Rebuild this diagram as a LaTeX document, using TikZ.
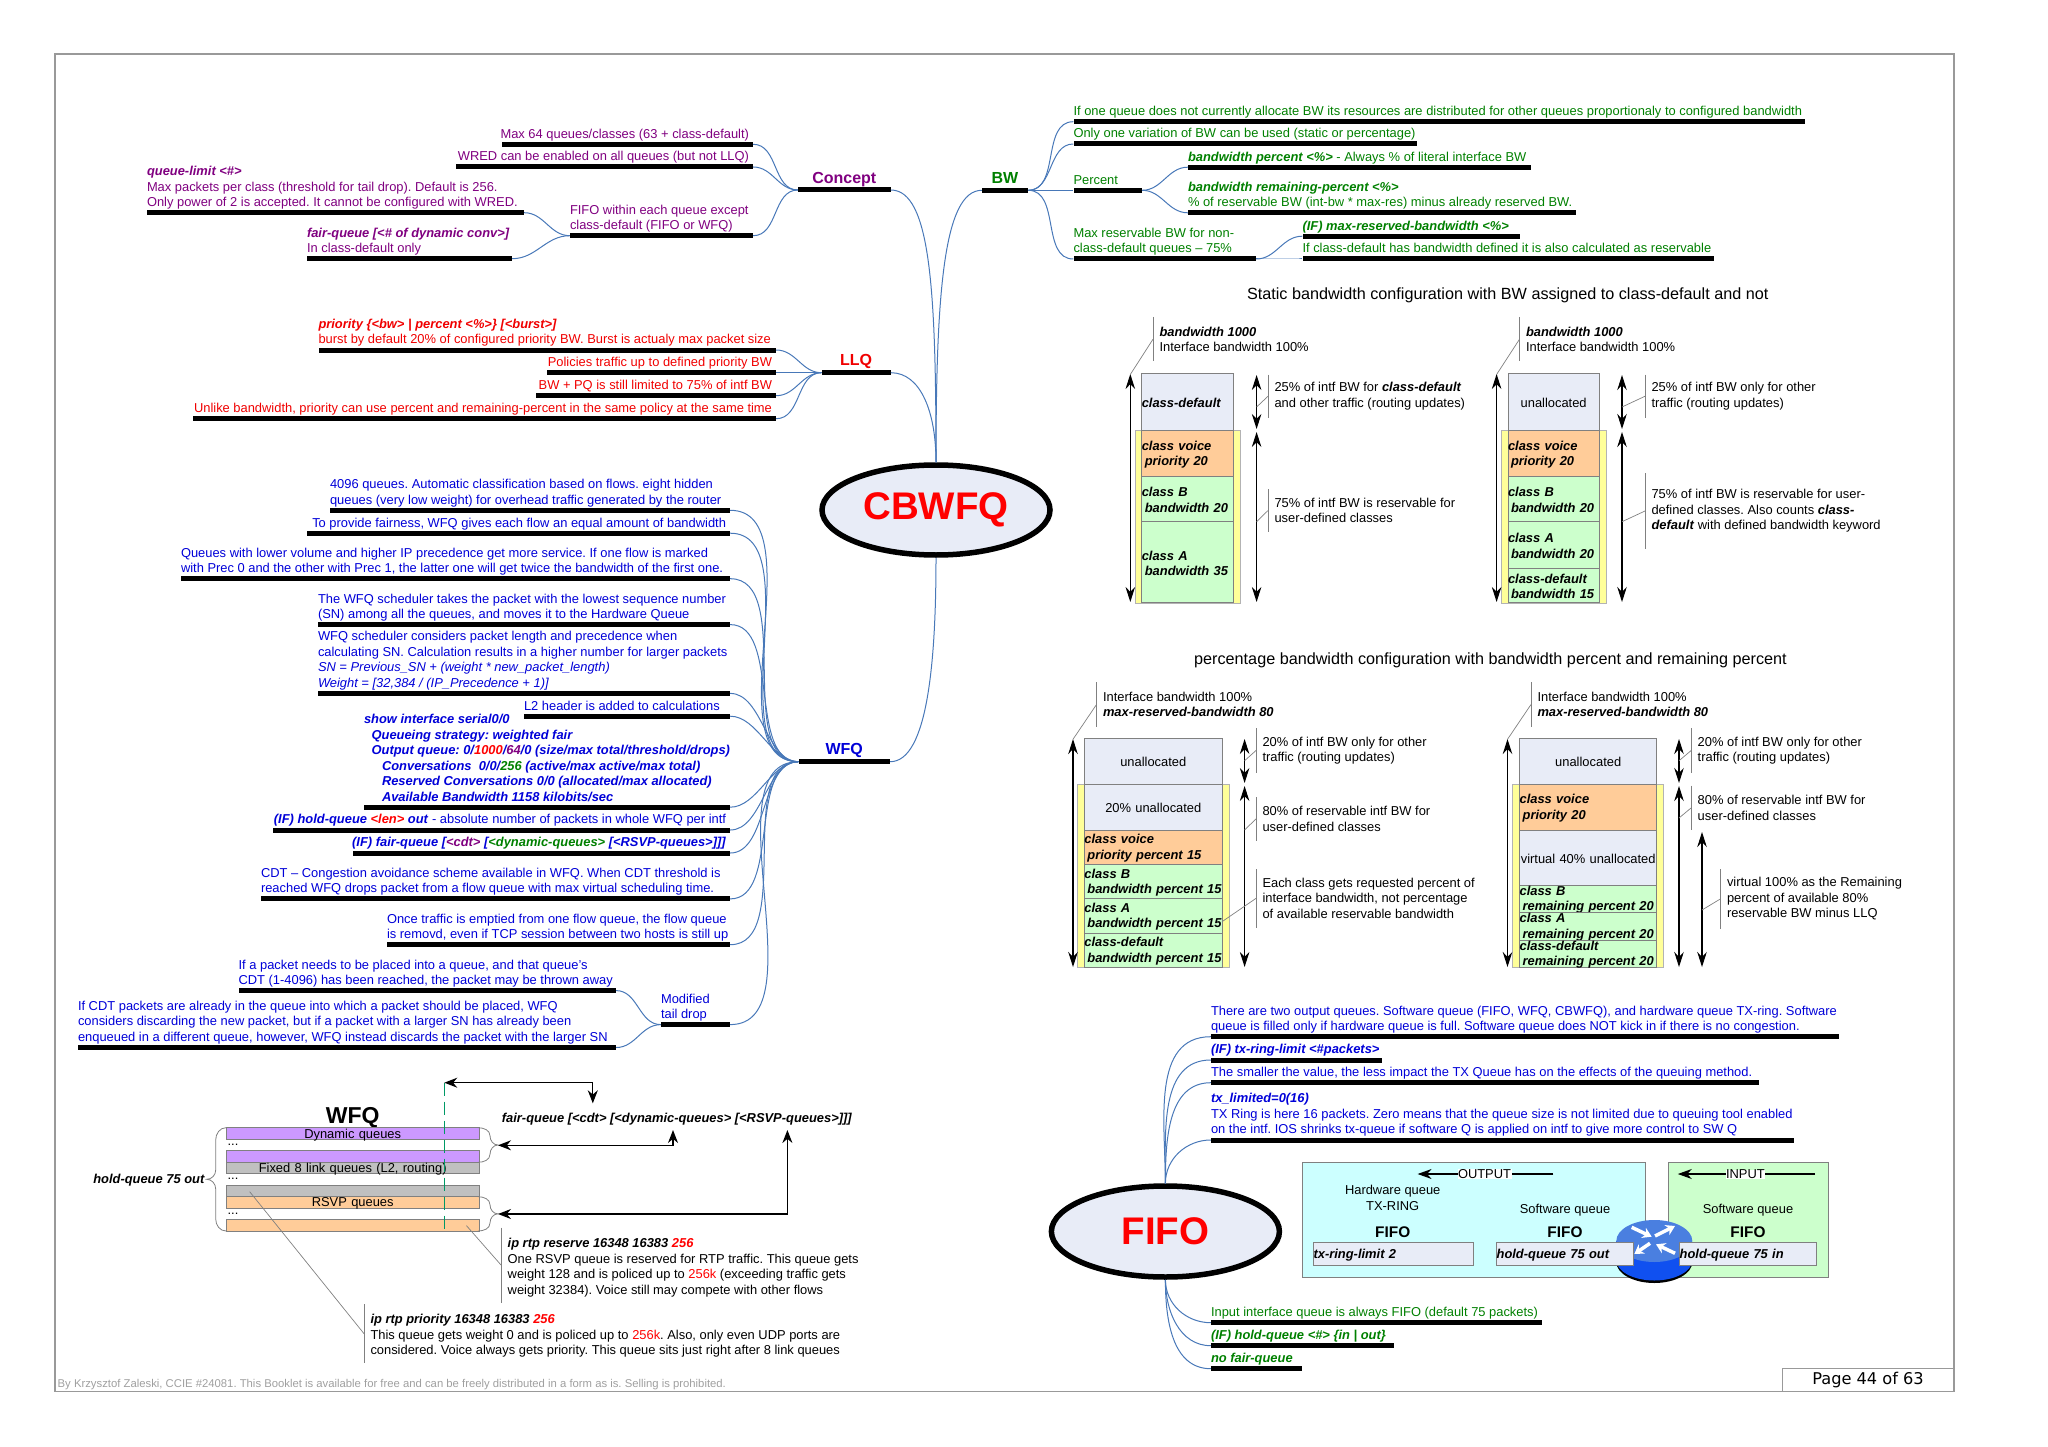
\documentclass[tikz,border=0pt]{standalone}
\usepackage{fontspec}
\usepackage{xcolor}
\setmainfont{Liberation Sans}
\newfontfamily\pagefont{DejaVu Sans}
\usetikzlibrary{arrows.meta,shapes.geometric}
\frenchspacing

\definecolor{plum}{HTML}{800080}
\definecolor{llqred}{HTML}{F00000}
\definecolor{wfqblue}{HTML}{0000D8}
\definecolor{bwgreen}{HTML}{008000}
\definecolor{branchblue}{HTML}{4878B8}
\definecolor{lavender}{HTML}{E8ECF7}
\definecolor{voiceorange}{HTML}{FFCC99}
\definecolor{classgreen}{HTML}{CCFFCC}
\definecolor{bandyellow}{HTML}{FFFF99}
\definecolor{dynpurple}{HTML}{CC99FF}
\definecolor{linkgray}{HTML}{C0C0C0}
\definecolor{outcyan}{HTML}{CCFFFF}
\definecolor{rulegray}{HTML}{808080}
\definecolor{routertop}{HTML}{4A7FE0}
\definecolor{routerbody}{HTML}{1050F0}

\newcommand{\bi}[1]{\textbf{\textit{#1}}}
\def\leafcol{black}
\def\callshift{0pt}

\tikzset{
  bar/.style={fill=black,inner sep=0pt,minimum height=5pt},
  txt/.style={font=\fontsize{12.9}{15.5}\selectfont,inner xsep=0pt,inner ysep=0.2pt,text depth=3pt},
  hubtxt/.style={font=\fontsize{16}{18}\selectfont\bfseries,inner sep=1pt,text depth=3pt},
  branch/.style={draw=branchblue,line width=1pt},
  hubshape/.style={ellipse,draw=black,line width=5.5pt,fill=lavender,inner sep=0pt,
    font=\fontsize{38.5}{40}\selectfont\bfseries,text=red},
  callrule/.style={draw=rulegray,line width=0.7pt},
  calltxt/.style={font=\fontsize{12.9}{15.5}\selectfont,inner xsep=0pt,inner ysep=0pt,align=left},
  cell/.style={draw=rulegray,line width=0.8pt,inner sep=0pt},
  celltxt/.style={font=\fontsize{12.9}{15.5}\selectfont,inner sep=0pt,yshift=-1pt},
  span/.style={draw=black,line width=1.1pt,{Stealth[length=15pt,width=9.5pt]}-{Stealth[length=15pt,width=9.5pt]}},
  thickarrow/.style={draw=black,line width=1.3pt,{Stealth[length=13pt,width=10pt]}-{Stealth[length=13pt,width=10pt]}},
  headline/.style={font=\fontsize{16.2}{18}\selectfont,inner sep=0pt},
  routerarrow/.style={draw=white,line width=3.5pt,-{Stealth[length=9pt,width=11pt]}},
  qbrace/.style={draw=rulegray,line width=0.8pt},
}

% name, x1, x2, y, text
\newcommand{\leafL}[5]{
  \node[bar,minimum width={(#3-#2)*1pt}] (#1) at ({(#2+#3)/2},#4) {};
  \node[txt,anchor=south west,align=left,text=\leafcol] (#1t) at (#1.north west) {#5};
}
\newcommand{\leafR}[5]{
  \node[bar,minimum width={(#3-#2)*1pt}] (#1) at ({(#2+#3)/2},#4) {};
  \node[txt,anchor=south east,align=right,text=\leafcol] (#1t) at ([xshift=-4pt]#1.north east) {#5};
}
\newcommand{\hub}[5]{
  \node[bar,minimum width={(#3-#2)*1pt}] (#1) at ({(#2+#3)/2},#4) {};
  \node[hubtxt,anchor=south,text=\leafcol] (#1t) at (#1.north) {#5};
}
% name, x of rule, top, bottom, tip x, tip y, text
\newcommand{\callout}[7]{
  \coordinate (#1a) at (#2,#3);
  \coordinate (#1b) at (#2,#4);
  \coordinate (#1m) at (#2,{(#3+#4)/2});
  \coordinate (#1p) at (#5,#6);
  \draw[callrule] (#1a) -- (#1b);
  \draw[callrule] (#1m) -- (#1p);
  \node[calltxt,anchor=west] (#1t) at ([xshift=6.3pt,yshift=-\callshift]#1m) {#7};
}
% name, x1, x2, y1, y2, fill, align, text
\newcommand{\qcell}[8]{
  \node[cell,fill=#6,minimum width={(#3-#2)*1pt},minimum height={(#5-#4)*1pt}]
    (#1) at ({(#2+#3)/2},{(#4+#5)/2}) {};
  \node[celltxt,text width={(#3-#2)*1pt},align=#7] (#1t) at (#1.center) {#8};
}
% top, bottom of a small brace right of the queues
\newcommand{\qbraceR}[2]{
  \draw[qbrace] (478,#1) to[out=0,in=90] (490,{#1+8}) to[out=-90,in=180] (498,{(#1+#2)/2})
    to[out=180,in=90] (490,{#2-8}) to[out=-90,in=0] (478,#2);
}

\begin{document}
\begin{tikzpicture}[x=1pt,y=-1pt]
  \useasboundingbox (0,0) rectangle (2048,1447);

  % Page frame and footer
  \draw[draw=gray!80,line width=1.3pt] (55,54) rectangle (1954,1391.5);
  \node[font=\fontsize{11.3}{13}\selectfont,text=gray!75,anchor=west,inner sep=0pt] (footer) at (57.5,1385)
    {By Krzysztof Zaleski, CCIE \#24081. This Booklet is available for free and can be freely distributed in a form as is. Selling is prohibited.};
  \node[draw=gray!80,line width=0.8pt,minimum width=172pt,minimum height=23pt,inner sep=0pt,
    font=\pagefont\fontsize{16.2}{18}\selectfont] (pagebox) at (1868,1380) {Page 44 of 63};

  % Central topics
  \node[hubshape,minimum width=228pt,minimum height=90pt] (cbwfq) at (936,510) {CBWFQ};
  \node[hubshape,minimum width=228pt,minimum height=91pt] (fifo) at (1165.4,1231.5) {FIFO};

  % Concept
  \def\leafcol{plum}
  \hub{concept}{798}{890.6}{190}{Concept}
  \leafR{conmax}{501.5}{753}{144.3}{Max 64 queues/classes (63 + class-default)}
  \leafR{conwred}{455.6}{753}{167}{WRED can be enabled on all queues (but not LLQ)}
  \leafL{confifo}{570}{753}{235.7}{FIFO within each queue except\\class-default (FIFO or WFQ)}
  \leafL{conlimit}{147}{524}{212.7}{\bi{queue-limit <\#>}\\Max packets per class (threshold for tail drop). Default is 256.\\Only power of 2 is accepted. It cannot be configured with WRED.}
  \leafL{confair}{307}{512}{258.7}{\bi{fair-queue [<\# of dynamic conv>]}\\In class-default only}
  \foreach \n in {conmax,conwred,confifo}
    \draw[branch] (\n.east) to[out=0,in=180] (concept.west);
  \foreach \n in {conlimit,confair}
    \draw[branch] (\n.east) to[out=0,in=180] (confifo.west);

  % LLQ
  \def\leafcol{llqred}
  \hub{llq}{821.7}{890.6}{372.7}{LLQ}
  \leafL{llqprio}{318.5}{776}{350}{\bi{priority \{<bw> | percent <\%>\} [<burst>]}\\burst by default 20\% of configured priority BW. Burst is actualy max packet size}
  \leafR{llqpol}{547}{776}{372.7}{Policies traffic up to defined priority BW}
  \leafR{llqpq}{536}{776}{395.7}{BW + PQ is still limited to 75\% of intf BW}
  \leafR{llqbw}{193}{776}{418.7}{Unlike bandwidth, priority can use percent and remaining-percent in the same policy at the same time}
  \foreach \n in {llqprio,llqpol,llqpq,llqbw}
    \draw[branch] (\n.east) to[out=0,in=180] (llq.west);

  % WFQ
  \def\leafcol{wfqblue}
  \hub{wfq}{798.5}{890}{761.7}{WFQ}
  \leafL{wfqa}{330}{730}{510.3}{4096 queues. Automatic classification based on flows. eight hidden\\queues (very low weight) for overhead traffic generated by the router}
  \leafR{wfqb}{307}{730}{533.2}{To provide fairness, WFQ gives each flow an equal amount of bandwidth}
  \leafL{wfqc}{181}{730}{578.7}{Queues with lower volume and higher IP precedence get more service. If one flow is marked\\with Prec 0 and the other with Prec 1, the latter one will get twice the bandwidth of the first one.}
  \leafL{wfqd}{318}{730}{624.6}{The WFQ scheduler takes the packet with the lowest sequence number\\(SN) among all the queues, and moves it to the Hardware Queue}
  \leafL{wfqe}{318}{730}{693.4}{WFQ scheduler considers packet length and precedence when\\calculating SN. Calculation results in a higher number for larger packets\\\textit{SN = Previous\_SN + (weight * new\_packet\_length)}\\\textit{Weight = [32,384 / (IP\_Precedence + 1)]}}
  \leafL{wfqf}{524}{730}{716.2}{L2 header is added to calculations}
  \leafL{wfqg}{364}{730}{807.2}{\bi{show interface serial0/0}\\\hspace*{7.6pt}\bi{Queueing strategy: weighted fair}\\\hspace*{7.6pt}\bi{Output queue: 0/\textcolor{red}{1000}/\textcolor{plum}{64}/0 (size/max total/threshold/drops)}\\\hspace*{18pt}\bi{Conversations\ \ 0/0/\textcolor{bwgreen}{256} (active/max active/max total)}\\\hspace*{18pt}\bi{Reserved Conversations 0/0 (allocated/max allocated)}\\\hspace*{18pt}\bi{Available Bandwidth 1158 kilobits/sec}}
  \leafR{wfqh}{273}{730}{830}{\bi{(IF) hold-queue \textcolor{red}{<len>} out} - absolute number of packets in whole WFQ per intf}
  \leafR{wfqi}{353}{730}{853}{\bi{(IF) fair-queue [\textcolor{plum}{<cdt>} [\textcolor{bwgreen}{<dynamic-queues>} [<RSVP-queues>]]]}}
  \leafL{wfqj}{261}{730}{898.9}{CDT -- Congestion avoidance scheme available in WFQ. When CDT threshold is\\reached WFQ drops packet from a flow queue with max virtual scheduling time.}
  \leafL{wfqk}{387}{730}{944.7}{Once traffic is emptied from one flow queue, the flow queue\\is removd, even if TCP session between two hosts is still up}
  \leafL{wfql}{661}{730}{1024.6}{Modified\\tail drop}
  \leafL{wfqm}{238.6}{616}{990.6}{If a packet needs to be placed into a queue, and that queue's\\CDT (1-4096) has been reached, the packet may be thrown away}
  \leafL{wfqn}{78}{616}{1047.5}{If CDT packets are already in the queue into which a packet should be placed, WFQ\\considers discarding the new packet, but if a packet with a larger SN has already been\\enqueued in a different queue, however, WFQ instead discards the packet with the larger SN}
  \foreach \n in {wfqa,wfqb,wfqc,wfqd,wfqe,wfqf,wfqg,wfqh,wfqi,wfqj,wfqk,wfql}
    \draw[branch] (\n.east) to[out=0,in=180,looseness=0.85] (wfq.west);
  \foreach \n in {wfqm,wfqn}
    \draw[branch] (\n.east) to[out=0,in=180] (wfql.west);

  % BW
  \def\leafcol{bwgreen}
  \hub{bw}{982}{1028}{190.3}{BW}
  \leafL{bwa}{1073.5}{1805}{121.7}{If one queue does not currently allocate BW its resources are distributed for other queues proportionaly to configured bandwidth}
  \leafL{bwb}{1073.5}{1417}{144}{Only one variation of BW can be used (static or percentage)}
  \leafL{bwc}{1073.5}{1142}{190.3}{Percent}
  \leafL{bwd}{1188}{1531}{167.2}{\bi{bandwidth percent <\%>} - Always \% of literal interface BW}
  \leafL{bwe}{1188}{1576}{212.8}{\bi{bandwidth remaining-percent <\%>}\\\% of reservable BW (int-bw * max-res) minus already reserved BW.}
  \leafL{bwf}{1073.5}{1256}{259}{Max reservable BW for non-\\class-default queues -- 75\%}
  \leafL{bwg}{1302.5}{1519.5}{236.2}{\bi{(IF) max-reserved-bandwidth <\%>}}
  \leafL{bwh}{1302.5}{1714}{259}{If class-default has bandwidth defined it is also calculated as reservable}
  \foreach \n in {bwa,bwb,bwc,bwf}
    \draw[branch] (bw.east) to[out=0,in=180] (\n.west);
  \foreach \n in {bwd,bwe}
    \draw[branch] (bwc.east) to[out=0,in=180] (\n.west);
  \foreach \n in {bwg,bwh}
    \draw[branch] (bwf.east) to[out=0,in=180] (\n.west);

  % Links to the central topic
  \draw[branch] (concept.east) .. controls +(40,0) and +(0,-170) .. (cbwfq.north);
  \draw[branch] (llq.east) .. controls +(30,0) and +(0,-50) .. (cbwfq.north);
  \draw[branch] (bw.west) .. controls +(-38,0) and +(0,-170) .. (cbwfq.north);
  \draw[branch] (wfq.east) .. controls +(38,0) and +(0,100) .. (cbwfq.south);

  % Static bandwidth stacks
  \node[headline] (stathead) at (1507.7,295) {Static bandwidth configuration with BW assigned to class-default and not};

  \fill[bandyellow] (1135,430.7) rectangle (1240,602.8);
  \draw[draw=rulegray!60,line width=0.6pt] (1135,430.7) rectangle (1240,602.8);
  \def\xa{1141.8} \def\xb{1233.6}
  \qcell{sadef}{\xa}{\xb}{373.4}{430.7}{lavender}{left}{\bi{class-default}}
  \qcell{savoice}{\xa}{\xb}{430.7}{476.2}{voiceorange}{left}{\bi{class voice}\\\hspace*{3pt}\bi{priority 20}}
  \qcell{sab}{\xa}{\xb}{476.2}{521.7}{classgreen}{left}{\bi{class B}\\\hspace*{3pt}\bi{bandwidth 20}}
  \qcell{saa}{\xa}{\xb}{521.7}{602.8}{classgreen}{left}{\bi{class A}\\\hspace*{3pt}\bi{bandwidth 35}}

  \fill[bandyellow] (1501,430.7) rectangle (1606,602.8);
  \draw[draw=rulegray!60,line width=0.6pt] (1501,430.7) rectangle (1606,602.8);
  \def\xa{1508} \def\xb{1599.3}
  \qcell{sbun}{\xa}{\xb}{373.4}{430.7}{lavender}{center}{unallocated}
  \qcell{sbvoice}{\xa}{\xb}{430.7}{476.2}{voiceorange}{left}{\bi{class voice}\\\hspace*{3pt}\bi{priority 20}}
  \qcell{sbb}{\xa}{\xb}{476.2}{521.7}{classgreen}{left}{\bi{class B}\\\hspace*{3pt}\bi{bandwidth 20}}
  \qcell{sba}{\xa}{\xb}{521.7}{567.9}{classgreen}{left}{\bi{class A}\\\hspace*{3pt}\bi{bandwidth 20}}
  \qcell{sbd}{\xa}{\xb}{567.9}{602.8}{classgreen}{left}{\bi{class-default}\\\hspace*{3pt}\bi{bandwidth 15}}

  % Percentage stacks
  \node[headline] (perchead) at (1490.5,660.5) {percentage bandwidth configuration with bandwidth percent and remaining percent};

  \fill[bandyellow] (1077.5,784.3) rectangle (1229,967.3);
  \draw[draw=rulegray!60,line width=0.6pt] (1077.5,784.3) rectangle (1229,967.3);
  \def\xa{1084.4} \def\xb{1222.2}
  \qcell{pcun}{\xa}{\xb}{738.3}{784.3}{lavender}{center}{unallocated}
  \qcell{pcfree}{\xa}{\xb}{784.3}{830.3}{lavender}{center}{20\% unallocated}
  \qcell{pcvoice}{\xa}{\xb}{830.3}{864.3}{voiceorange}{left}{\bi{class voice}\\\hspace*{3pt}\bi{priority percent 15}}
  \qcell{pcb}{\xa}{\xb}{864.3}{898.7}{classgreen}{left}{\bi{class B}\\\hspace*{3pt}\bi{bandwidth percent 15}}
  \qcell{pca}{\xa}{\xb}{898.7}{933}{classgreen}{left}{\bi{class A}\\\hspace*{3pt}\bi{bandwidth percent 15}}
  \qcell{pcd}{\xa}{\xb}{933}{967.3}{classgreen}{left}{\bi{class-default}\\\hspace*{3pt}\bi{bandwidth percent 15}}

  \fill[bandyellow] (1512.7,784.3) rectangle (1663.7,967.3);
  \draw[draw=rulegray!60,line width=0.6pt] (1512.7,784.3) rectangle (1663.7,967.3);
  \def\xa{1519.6} \def\xb{1656.8}
  \qcell{pdun}{\xa}{\xb}{738.3}{784.3}{lavender}{center}{unallocated}
  \qcell{pdvoice}{\xa}{\xb}{784.3}{830.3}{voiceorange}{left}{\bi{class voice}\\\hspace*{3pt}\bi{priority 20}}
  \qcell{pdfree}{\xa}{\xb}{830.3}{885}{lavender}{center}{virtual 40\% unallocated}
  \qcell{pdb}{\xa}{\xb}{885}{912.7}{classgreen}{left}{\bi{class B}\\\hspace*{3pt}\bi{remaining percent 20}}
  \qcell{pda}{\xa}{\xb}{912.7}{940}{classgreen}{left}{\bi{class A}\\\hspace*{3pt}\bi{remaining percent 20}}
  \qcell{pdd}{\xa}{\xb}{940}{967.3}{classgreen}{left}{\bi{class-default}\\\hspace*{3pt}\bi{remaining percent 20}}

  % Size arrows beside the stacks
  \foreach \n/\x/\a/\b in {sl/1130.3/374/602, sm/1256.6/375/429, sn/1256.6/432/602,
      tl/1496.6/374/602, tm/1622/375/429, tn/1622/432/602,
      ul/1073/739/967, um/1244.6/739/783, un/1244.6/786/967,
      vl/1507.5/739/967, vm/1679/739/783, vn/1679/786/967, vo/1702/832/967} {
    \coordinate (\n-a) at (\x,\a);
    \coordinate (\n-b) at (\x,\b);
    \draw[span] (\n-a) -- (\n-b);
  }

  % Callouts of the stacks
  \callout{cba}{1153}{317}{361.4}{1130.3}{374.5}{\bi{bandwidth 1000}\\Interface bandwidth 100\%}
  \callout{cbb}{1268}{374.5}{418}{1256.6}{407}{25\% of intf BW for \bi{class-default}\\and other traffic (routing updates)}
  \callout{cbc}{1268}{489}{532}{1256.6}{521.7}{75\% of intf BW is reservable for\\user-defined classes}
  \callout{cca}{1519.5}{317}{361.4}{1496.6}{374.5}{\bi{bandwidth 1000}\\Interface bandwidth 100\%}
  \callout{ccb}{1645}{374.5}{418}{1622}{407}{25\% of intf BW only for other\\traffic (routing updates)}
  \callout{ccc}{1645}{473.4}{548.6}{1622}{521.7}{75\% of intf BW is reservable for user-\\defined classes. Also counts \bi{class-}\\\bi{default} with defined bandwidth keyword}
  \callout{cda}{1096.5}{682.3}{726.7}{1073}{739.3}{Interface bandwidth 100\%\\\bi{max-reserved-bandwidth 80}}
  \callout{cdb}{1256}{728.3}{772.7}{1244.6}{760.7}{20\% of intf BW only for other\\traffic (routing updates)}
  \callout{cdc}{1256}{797}{840.7}{1244.6}{830}{80\% of reservable intf BW for\\user-defined classes}
  \callout{cdd}{1256}{869}{927.7}{1222}{921.7}{Each class gets requested percent of\\interface bandwidth, not percentage\\of available reservable bandwidth}
  \callout{cea}{1531}{682.3}{726.7}{1507.5}{739.3}{Interface bandwidth 100\%\\\bi{max-reserved-bandwidth 80}}
  \callout{ceb}{1691.2}{728.3}{772.7}{1679}{760.7}{20\% of intf BW only for other\\traffic (routing updates)}
  \callout{cec}{1691.2}{785.7}{830}{1679}{818}{80\% of reservable intf BW for\\user-defined classes}
  \callout{ced}{1720.5}{869}{928.7}{1702}{910}{virtual 100\% as the Remaining\\percent of available 80\%\\reservable BW minus LLQ}

  % WFQ queue picture
  \node[font=\fontsize{23}{25}\selectfont\bfseries,inner sep=0pt] (wfqhead) at (352.7,1118) {WFQ};
  \def\xa{226.4} \def\xb{479}
  \qcell{qdyn}{\xa}{\xb}{1127.7}{1139.7}{dynpurple}{center}{Dynamic queues}
  \qcell{qdynb}{\xa}{\xb}{1150.7}{1162.3}{dynpurple}{center}{}
  \qcell{qfix}{\xa}{\xb}{1162.3}{1173.7}{linkgray}{center}{Fixed 8 link queues (L2, routing)}
  \qcell{qfixb}{\xa}{\xb}{1185.3}{1196.7}{linkgray}{center}{}
  \qcell{qrsv}{\xa}{\xb}{1196.7}{1208.3}{voiceorange}{center}{RSVP queues}
  \qcell{qrsvb}{\xa}{\xb}{1219.7}{1231}{voiceorange}{center}{}
  \foreach \n/\y in {ddyn/1145, dfix/1179, drsv/1214}
    \node[font=\fontsize{12.9}{14}\selectfont,inner sep=0pt] (\n) at (233,\y) {...};

  \coordinate (dashtop) at (444.3,1082.7);
  \coordinate (dashend) at (444.3,1231);
  \draw[draw=teal!80!green,dashed,dash pattern=on 13pt off 6pt,line width=0.9pt] (dashtop) -- (dashend);

  \draw[qbrace] (226,1127.7) to[out=180,in=90] (215.7,1140) -- (215.7,1170) to[out=-90,in=0] (206.7,1179.3)
    to[out=0,in=90] (215.7,1189) -- (215.7,1219) to[out=-90,in=180] (226,1231);
  \qbraceR{1127.7}{1162.3}
  \qbraceR{1196.7}{1231}
  \node[txt,anchor=east,text depth=0pt] (holdout) at (205,1179.3) {\bi{hold-queue 75 out}};

  \node[txt,anchor=west,text depth=0pt] (fqcmd) at (501.7,1118.3) {\bi{fair-queue [<cdt> [<dynamic-queues> [<RSVP-queues>]]]}};
  \coordinate (cdtdot) at (592.8,1103.3);
  \coordinate (dyndot) at (673,1130);
  \coordinate (rsvdot) at (787.4,1130);
  \coordinate (dynbr) at (498,1145.3);
  \coordinate (rsvbr) at (498,1214);
  \draw[thickarrow] (dashtop) -| (cdtdot);
  \draw[thickarrow] (dynbr) -| (dyndot);
  \draw[thickarrow] (rsvbr) -| (rsvdot);

  \def\callshift{2.5pt}
  \callout{cfa}{501.2}{1227.7}{1302.7}{466.5}{1225.7}{\bi{ip rtp reserve 16348 16383 \textcolor{red}{256}}\\One RSVP queue is reserved for RTP traffic. This queue gets\\weight 128 and is policed up to \textcolor{red}{256k} (exceeding traffic gets\\weight 32384). Voice still may compete with other flows}
  \callout{cfb}{364}{1304}{1363.3}{249.7}{1191.7}{\bi{ip rtp priority 16348 16383 \textcolor{red}{256}}\\This queue gets weight 0 and is policed up to \textcolor{red}{256k}. Also, only even UDP ports are\\considered. Voice always gets priority. This queue sits just right after 8 link queues}

  % FIFO branches
  \def\leafcol{wfqblue}
  \leafL{ffa}{1211}{1839}{1036.7}{There are two output queues. Software queue (FIFO, WFQ, CBWFQ), and hardware queue TX-ring. Software\\queue is filled only if hardware queue is full. Software queue does NOT kick in if there is no congestion.}
  \leafL{ffb}{1211}{1382}{1060}{\bi{(IF) tx-ring-limit <\#packets>}}
  \leafL{ffc}{1211}{1759.4}{1082.7}{The smaller the value, the less impact the TX Queue has on the effects of the queuing method.}
  \leafL{ffd}{1211}{1793.8}{1140}{\bi{tx\_limited=0(16)}\\TX Ring is here 16 packets. Zero means that the queue size is not limited due to queuing tool enabled\\on the intf. IOS shrinks tx-queue if software Q is applied on intf to give more control to SW Q}
  \def\leafcol{bwgreen}
  \leafL{ffe}{1211}{1542}{1322.7}{Input interface queue is always FIFO (default 75 packets)}
  \leafL{fff}{1211}{1394}{1345.7}{\bi{(IF) hold-queue <\#> \{in | out\}}}
  \leafL{ffg}{1211}{1302}{1368.7}{\bi{no fair-queue}}
  \foreach \n in {ffa,ffb,ffc,ffd}
    \draw[branch] (fifo.north) to[out=90,in=180] (\n.west);
  \foreach \n in {ffe,fff,ffg}
    \draw[branch] (fifo.south) to[out=-90,in=180] (\n.west);

  % Output and input panels
  \draw[draw=rulegray,fill=outcyan,line width=0.8pt] (1302,1162.7) rectangle (1645,1277.3);
  \draw[draw=rulegray,fill=classgreen,line width=0.8pt] (1668,1162.7) rectangle (1828,1277.3);

  \coordinate (outr) at (1553.4,1174);
  \coordinate (outl) at (1417.6,1174);
  \coordinate (inr) at (1815,1174);
  \coordinate (inl) at (1677.8,1174);
  \draw[draw=black,line width=1.2pt,-{Stealth[length=14pt,width=10pt]}] (outr) -- (outl);
  \draw[draw=black,line width=1.2pt,-{Stealth[length=14pt,width=10pt]}] (inr) -- (inl);
  \node[calltxt,fill=white,inner xsep=0.5pt] (outtxt) at (1484.5,1174) {OUTPUT};
  \node[calltxt,fill=white,inner xsep=0.5pt] (intxt) at (1745.4,1174) {INPUT};

  \node[calltxt,align=center] (hwq) at (1392.7,1198) {Hardware queue\\TX-RING};
  \node[calltxt] (swq) at (1565,1210.5) {Software queue};
  \node[calltxt] (swr) at (1748,1210.5) {Software queue};
  \foreach \n/\x in {ffifoa/1392.7, ffifob/1565, ffifoc/1748}
    \node[font=\fontsize{15.4}{17}\selectfont\bfseries,inner sep=0pt] (\n) at (\x,1232.5) {FIFO};

  % Router between the panels
  \fill[black] (1654.3,1262) ellipse [x radius=38pt,y radius=21pt];
  \fill[routerbody] (1654.3,1260) ellipse [x radius=38pt,y radius=20.5pt];
  \fill[routerbody] (1616.3,1241) rectangle (1692.3,1260);
  \fill[routertop] (1654.3,1241) ellipse [x radius=38pt,y radius=21pt];
  \coordinate (ra) at (1631.7,1227.3);
  \coordinate (rb) at (1651.7,1236.7);
  \coordinate (rc) at (1655,1236);
  \coordinate (rd) at (1675,1226);
  \coordinate (re) at (1650,1243.3);
  \coordinate (rf) at (1634.3,1254);
  \coordinate (rg) at (1675,1253.3);
  \coordinate (rh) at (1656,1244.3);
  \draw[routerarrow] (ra) -- (rb);
  \draw[routerarrow] (rc) -- (rd);
  \draw[routerarrow] (re) -- (rf);
  \draw[routerarrow] (rg) -- (rh);

  \qcell{txbox}{1313.6}{1473.7}{1242.7}{1265.7}{lavender}{left}{\bi{tx-ring-limit 2}}
  \qcell{hobox}{1496.6}{1633.7}{1242.7}{1265.7}{lavender}{left}{\bi{hold-queue 75 out}}
  \qcell{hibox}{1679.7}{1816.8}{1242.7}{1265.7}{lavender}{left}{\bi{hold-queue 75 in}}
\end{tikzpicture}
\end{document}
